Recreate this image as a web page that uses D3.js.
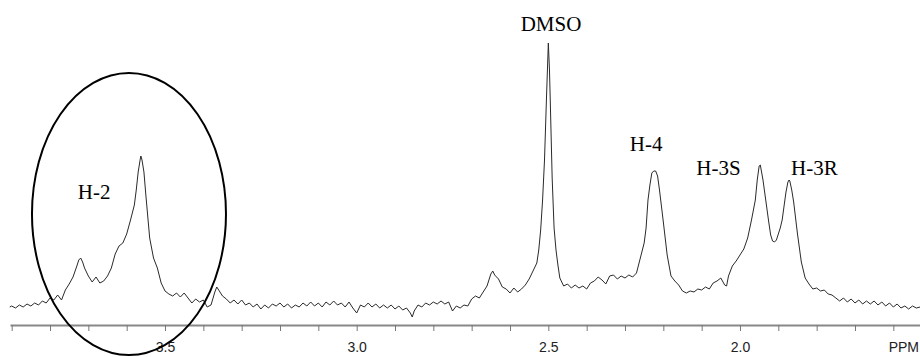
<!DOCTYPE html>
<html>
<head>
<meta charset="utf-8">
<script src="https://cdn.jsdelivr.net/npm/d3@7"></script>
<style>
  body { margin: 0; background: #fff; }
  svg { display: block; }
  .peak-label { font-family: "Liberation Serif", "Times New Roman", serif; font-size: 21px; fill: #000; }
  .axis text { font-family: "Liberation Sans Narrow", "Liberation Sans", Arial, sans-serif; font-size: 14px; fill: #222; }
</style>
</head>
<body>
<svg width="920" height="357"></svg>
<script>
const width = 920;
const height = 357;

// chemical shift (ppm)
const shifts = [3.905,3.90,3.89,3.88,3.87,3.86,3.85,3.84,3.83,3.82,3.81,3.80,3.79,3.78,3.77,3.76,3.75,3.74,3.73,3.725,3.72,3.715,3.71,3.70,3.69,3.68,3.67,3.66,3.65,3.64,3.63,3.62,3.61,3.60,3.59,3.58,3.575,3.57,3.565,3.563,3.56,3.555,3.55,3.54,3.53,3.52,3.51,3.50,3.49,3.48,3.47,3.46,3.45,3.44,3.43,3.42,3.41,3.40,3.39,3.38,3.37,3.365,3.36,3.35,3.34,3.33,3.32,3.31,3.30,3.29,3.28,3.27,3.26,3.25,3.24,3.23,3.22,3.21,3.20,3.19,3.18,3.17,3.16,3.15,3.14,3.13,3.12,3.11,3.10,3.09,3.08,3.07,3.06,3.05,3.04,3.03,3.02,3.01,3.00,2.99,2.98,2.97,2.96,2.95,2.94,2.93,2.92,2.91,2.90,2.89,2.88,2.87,2.86,2.855,2.85,2.84,2.83,2.82,2.81,2.80,2.79,2.78,2.77,2.76,2.75,2.74,2.73,2.72,2.71,2.70,2.69,2.68,2.67,2.66,2.65,2.645,2.64,2.63,2.62,2.61,2.60,2.59,2.58,2.57,2.56,2.55,2.54,2.53,2.525,2.52,2.515,2.51,2.505,2.50,2.497,2.495,2.49,2.485,2.48,2.475,2.47,2.46,2.45,2.44,2.43,2.42,2.41,2.40,2.39,2.38,2.37,2.36,2.35,2.34,2.33,2.32,2.31,2.30,2.29,2.28,2.27,2.26,2.25,2.245,2.24,2.235,2.23,2.225,2.22,2.215,2.21,2.20,2.19,2.18,2.17,2.16,2.15,2.14,2.13,2.12,2.11,2.10,2.09,2.08,2.07,2.06,2.05,2.04,2.035,2.03,2.02,2.01,2.00,1.99,1.98,1.97,1.96,1.955,1.95,1.947,1.94,1.935,1.93,1.925,1.92,1.915,1.91,1.905,1.90,1.895,1.89,1.885,1.88,1.875,1.872,1.87,1.865,1.86,1.855,1.85,1.845,1.84,1.835,1.83,1.82,1.81,1.80,1.79,1.78,1.77,1.76,1.75,1.74,1.73,1.72,1.71,1.70,1.69,1.68,1.67,1.66,1.65,1.64,1.63,1.62,1.61,1.60,1.59,1.58,1.57,1.56,1.55,1.54,1.53];

// signal intensity (arbitrary units), same order as shifts
const intensities = [8,9,7,10,8,11,9,12,10,14,12,17,15,20,15,25,31,38,49,55,57,53,47,39,33,38,32,34,39,47,61,69,72,81,95,110,125,143,155,159,155,143,120,77,57,47,32,24,21,19,22,18,22,17,12,16,13,15,8,10,23,28,25,19,16,12,15,11,15,10,12,8,11,6,10,7,11,9,12,8,11,7,10,8,12,9,13,9,12,8,13,10,14,10,12,8,13,7,2,10,8,12,8,11,7,10,7,10,6,9,5,7,2,-2,4,10,8,12,10,13,11,14,11,13,4,9,7,10,9,16,19,17,23,29,41,44,40,36,28,26,22,27,23,26,30,36,44,52,65,85,115,155,215,272,245,215,137,87,65,50,37,29,31,27,30,27,29,26,32,34,38,35,31,39,40,36,39,37,40,38,42,57,72,87,115,130,142,144,144,139,125,93,60,39,34,30,24,22,24,23,26,25,28,26,32,34,37,30,29,39,49,54,60,66,77,95,115,135,149,150,135,121,107,93,80,74,73,75,81,87,95,109,123,133,135,134,125,113,97,81,67,53,45,37,31,26,27,24,25,21,20,17,14,17,13,16,12,15,11,14,11,14,10,13,9,12,8,11,7,9,6,9,7,8];

// axis ticks
const tickValues = [3.9,3.8,3.7,3.6,3.5,3.4,3.3,3.2,3.1,3.0,2.9,2.8,2.7,2.6,2.5,2.4,2.3,2.2,2.1,2.0,1.9,1.8,1.7,1.6];
const tickLabels = [3.5, 3.0, 2.5, 2.0];

// peak assignments
const peakNames = ['H-2', 'DMSO', 'H-4', 'H-3S', 'H-3R'];
const peakShifts = [3.685, 2.493, 2.245, 2.056, 1.806];

const svg = d3.select('svg');

const margin = { top: 40, bottom: 32, left: 10, right: 0 };
const axisY = 325;

const data = shifts.map((s, i) => ({ ppm: s, value: intensities[i] }));

const xScale = d3.scaleLinear()
    .domain([3.9044, 1.5304])
    .range([margin.left, width - margin.right]);

const yScale = d3.scaleLinear()
    .domain([0, 275])
    .range([315, margin.top]);

// spectrum
const line = d3.line()
    .x(d => xScale(d.ppm))
    .y(d => yScale(d.value));

svg.append('path')
    .datum(data)
    .attr('d', line)
    .attr('fill', 'none')
    .attr('stroke', '#2a2a2a')
    .attr('stroke-width', 1)
    .attr('stroke-linejoin', 'round');

// ppm axis
const xAxis = d3.axisBottom(xScale)
    .tickValues(tickValues)
    .tickFormat(d => tickLabels.some(t => Math.abs(t - d) < 1e-6) ? d3.format('.1f')(d) : '')
    .tickSize(6)
    .tickSizeOuter(0);

const xAxisG = svg.append('g')
    .attr('class', 'axis')
    .attr('transform', 'translate(0, ' + axisY + ')')
    .call(xAxis);

xAxisG.select('.domain')
    .attr('stroke', '#888')
    .attr('stroke-width', 2);
xAxisG.selectAll('.tick line')
    .attr('stroke', '#777');
xAxisG.selectAll('.tick text')
    .attr('y', 27)
    .attr('dy', 0);

xAxisG.append('text')
    .text('PPM')
    .attr('x', width - 1)
    .attr('y', 27)
    .attr('text-anchor', 'end');

// peak labels
const labelY = { 'H-2': 199, 'DMSO': 30.5, 'H-4': 150.7, 'H-3S': 175, 'H-3R': 175 };

svg.selectAll('.peak-label')
    .data(peakNames)
    .enter()
    .append('text')
    .attr('class', 'peak-label')
    .attr('x', (d, i) => xScale(peakShifts[i]))
    .attr('y', d => labelY[d])
    .attr('text-anchor', 'middle')
    .text(d => d);

// circle round the H-2 signal
svg.append('ellipse')
    .attr('cx', xScale(3.594))
    .attr('cy', 214)
    .attr('rx', 97)
    .attr('ry', 141)
    .attr('fill', 'none')
    .attr('stroke', '#000')
    .attr('stroke-width', 2);
</script>
</body>
</html>
